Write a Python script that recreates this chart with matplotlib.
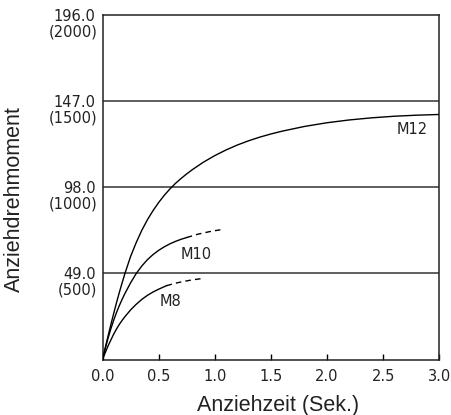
import matplotlib
matplotlib.use("Agg")
import matplotlib.pyplot as plt

# values (torque in N·m, kgf·cm in brackets)
y_ticks = [49.0, 98.0, 147.0, 196.0]
y_ticks_kgf = ["(500)", "(1000)", "(1500)", "(2000)"]
x_ticks = [0.0, 0.5, 1.0, 1.5, 2.0, 2.5, 3.0]

m12_t = [0.0, 0.025, 0.05, 0.075, 0.1, 0.125, 0.15, 0.175, 0.2, 0.25, 0.3,
         0.35, 0.4, 0.45, 0.5, 0.55, 0.6, 0.65, 0.7, 0.75, 0.8, 0.9, 1.0,
         1.1, 1.2, 1.3, 1.4, 1.5, 1.6, 1.8, 2.0, 2.2, 2.4, 2.6, 2.8, 3.0]
m12_m = [0, 6.8, 13.5, 20.0, 26.3, 32.4, 38.2, 43.7, 49.0, 58.6, 66.5,
         73.5, 79.5, 84.7, 89.3, 93.4, 97.0, 100.2, 103.0, 105.6, 108.0,
         112.3, 116.0, 119.2, 122.0, 124.4, 126.5, 128.3, 129.9, 132.6,
         134.7, 136.3, 137.5, 138.4, 139.0, 139.4]

m10_t = [0.0, 0.025, 0.05, 0.075, 0.1, 0.125, 0.15, 0.175, 0.2, 0.25, 0.3,
         0.35, 0.4, 0.45, 0.5, 0.55, 0.6, 0.65, 0.7, 0.75]
m10_m = [0, 6.4, 12.3, 17.6, 22.4, 26.8, 30.7, 34.3, 37.6, 43.6, 48.9,
         53.2, 56.8, 59.7, 62.1, 64.1, 65.8, 67.2, 68.4, 69.4]
m10_ext_t = [0.75, 0.85, 0.95, 1.05]
m10_ext_m = [69.4, 71.3, 72.7, 73.8]

m8_t = [0.0, 0.025, 0.05, 0.075, 0.1, 0.125, 0.15, 0.175, 0.2, 0.25, 0.3,
        0.35, 0.4, 0.45, 0.5, 0.57]
m8_m = [0, 4.0, 7.8, 11.2, 14.5, 17.4, 20, 22.3, 24.4, 28.2, 31.4,
        34.2, 36.5, 38.4, 40.0, 42]
m8_ext_t = [0.57, 0.65, 0.72, 0.8, 0.88]
m8_ext_m = [42, 43.4, 44.4, 45.3, 46]

labels = ["M12", "M10", "M8"]
label_pos = [(2.756, 130.6), (0.833, 59.9), (0.608, 33.2)]

FONT = "DejaVu Sans"
TXT = "#222222"

fig = plt.figure(figsize=(4.51, 4.15), dpi=100)
ax = fig.add_axes([0.2273, 0.1337, 0.7467, 0.8302])

for v in y_ticks[:-1]:
    ax.axhline(v, color="#333333", lw=1.1, zorder=1)

ax.plot(m12_t, m12_m, color="black", lw=1.0, zorder=3)
ax.plot(m10_t, m10_m, color="black", lw=1.0, zorder=3)
ax.plot(m10_ext_t, m10_ext_m, color="black", lw=1.0, ls=(0, (4, 3)), zorder=3)
ax.plot(m8_t, m8_m, color="black", lw=1.0, zorder=3)
ax.plot(m8_ext_t, m8_ext_m, color="black", lw=1.0, ls=(0, (4, 3)), zorder=3)

for name, (tx, ty) in zip(labels, label_pos):
    ax.text(tx, ty, name, ha="center", va="center", fontsize=10.5,
            family=FONT, color=TXT)

ax.set_xlim(0, 3.0)
ax.set_ylim(0, 196.0)
ax.set_xticks(x_ticks)
ax.set_xticklabels([f"{v:.1f}" for v in x_ticks], family=FONT,
                   fontsize=10.5, color=TXT)
ax.set_yticks(y_ticks)
ax.set_yticklabels([f"{v:.1f}" for v in y_ticks], family=FONT,
                   fontsize=10.5, color=TXT)
ax.tick_params(axis="x", direction="in", length=4, width=1.0, pad=7)
ax.tick_params(axis="y", length=0, pad=5)

for v, s in zip(y_ticks, y_ticks_kgf):
    ax.annotate(s, xy=(0, v), xycoords=ax.get_yaxis_transform(),
                xytext=(-3.6, -12.2), textcoords="offset points",
                ha="right", va="center", fontsize=10.5, family=FONT,
                color=TXT)

for sp in ax.spines.values():
    sp.set_linewidth(1.1)
    sp.set_color("#222222")

fig.text(278.5 / 451, 1 - 410.7 / 415, "Anziehzeit (Sek.)", ha="center",
         va="baseline", fontsize=15.5, family="Liberation Sans", color=TXT)
fig.text(14 / 451, 1 - 199 / 415, "Anziehdrehmoment", rotation=90,
         ha="center", va="center", fontsize=15.5, family="Liberation Sans",
         color=TXT)

fig.savefig("out.png", dpi=100)
